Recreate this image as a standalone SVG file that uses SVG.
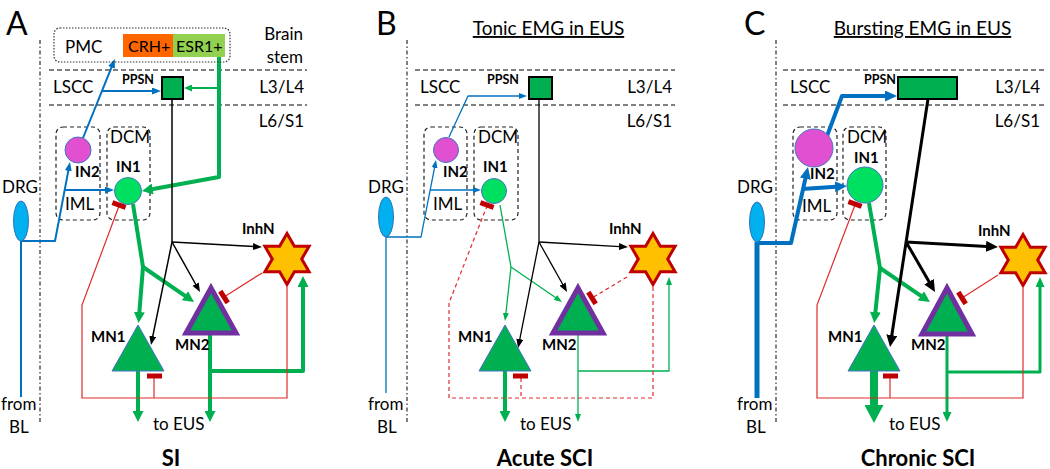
<svg xmlns="http://www.w3.org/2000/svg" width="1050" height="469" viewBox="0 0 1050 469">
<style>
text{font-family:Lato,"Liberation Sans",sans-serif;fill:#000}
.t{font-size:17px}
.ts{font-size:16px}
.tb{font-size:15px;font-weight:bold}
.mn{font-size:15px;font-weight:bold}
.pp{font-size:12.5px;font-weight:bold}
.let{font-size:32px}
.ttl{font-size:19px;text-decoration:underline;text-anchor:middle}
.cap{font-size:22px;font-weight:bold;text-anchor:middle}
.end{text-anchor:end}
.dd{stroke:#000;stroke-width:1;stroke-dasharray:4 2.5 1.5 2.5;fill:none}
.hd{stroke:#000;stroke-width:1.2;stroke-dasharray:5 3;fill:none}
.box{fill:none;stroke:#222;stroke-width:1.2;stroke-dasharray:4 3}
.pmc{fill:none;stroke:#333;stroke-width:1.2;stroke-dasharray:1.5 1.5}
.ppn{fill:#00B050;stroke:#000;stroke-width:2}
.in1{fill:#00E060;stroke:#4472C4;stroke-width:1}
.in2{fill:#E050D0;stroke:#4472C4;stroke-width:1}
.drg{fill:#00B0F0;stroke:#2E75B6;stroke-width:1}
.star{fill:#FFC000;stroke:#C00000;stroke-width:3;stroke-linejoin:miter}
.mn1{fill:#00B050;stroke:#4472C4;stroke-width:1}
.mn2{fill:#00B050;stroke:#7030A0;stroke-width:5;stroke-linejoin:miter}
.c{fill:none;stroke-linejoin:round}
.bl{stroke:#0070C0}
.gr{stroke:#00B050}
.bk{stroke:#000}
.rd{stroke:#E02A2A;stroke-width:1.2;fill:none}
.bar{stroke:#C00000;stroke-width:5;fill:none}
.dash{stroke-dasharray:4 3}
</style>
<defs>
<marker id="mb1" markerUnits="userSpaceOnUse" markerWidth="8" markerHeight="6" viewBox="0 0 8 6" refX="1" refY="3" orient="auto"><path d="M0,0 L8,3 L0,6 z" fill="#0070C0"/></marker>
<marker id="mb2" markerUnits="userSpaceOnUse" markerWidth="9" markerHeight="7" viewBox="0 0 9 7" refX="1" refY="3.5" orient="auto"><path d="M0,0 L9,3.5 L0,7 z" fill="#0070C0"/></marker>
<marker id="mb4" markerUnits="userSpaceOnUse" markerWidth="12" markerHeight="11" viewBox="0 0 12 11" refX="1" refY="5.5" orient="auto"><path d="M0,0 L12,5.5 L0,11 z" fill="#0070C0"/></marker>
<marker id="mg1" markerUnits="userSpaceOnUse" markerWidth="8" markerHeight="6" viewBox="0 0 8 6" refX="1" refY="3" orient="auto"><path d="M0,0 L8,3 L0,6 z" fill="#00B050"/></marker>
<marker id="mg2" markerUnits="userSpaceOnUse" markerWidth="8" markerHeight="7" viewBox="0 0 8 7" refX="1" refY="3.5" orient="auto"><path d="M0,0 L8,3.5 L0,7 z" fill="#00B050"/></marker>
<marker id="mg3" markerUnits="userSpaceOnUse" markerWidth="10" markerHeight="9" viewBox="0 0 10 9" refX="1" refY="4.5" orient="auto"><path d="M0,0 L10,4.5 L0,9 z" fill="#00B050"/></marker>
<marker id="mg4" markerUnits="userSpaceOnUse" markerWidth="11" markerHeight="11" viewBox="0 0 11 11" refX="1" refY="5.5" orient="auto"><path d="M0,0 L11,5.5 L0,11 z" fill="#00B050"/></marker>
<marker id="mg8" markerUnits="userSpaceOnUse" markerWidth="18" markerHeight="19" viewBox="0 0 18 19" refX="1" refY="9.5" orient="auto"><path d="M0,0 L18,9.5 L0,19 z" fill="#00B050"/></marker>
<marker id="mk1" markerUnits="userSpaceOnUse" markerWidth="9" markerHeight="7" viewBox="0 0 9 7" refX="1" refY="3.5" orient="auto"><path d="M0,0 L9,3.5 L0,7 z" fill="#000"/></marker>
<marker id="mk3" markerUnits="userSpaceOnUse" markerWidth="12" markerHeight="11" viewBox="0 0 12 11" refX="1" refY="5.5" orient="auto"><path d="M0,0 L12,5.5 L0,11 z" fill="#000"/></marker>
<path id="hex" d="M0,-25.5 L7.36,-12.75 L22.08,-12.75 L14.72,0 L22.08,12.75 L7.36,12.75 L0,25.5 L-7.36,12.75 L-22.08,12.75 L-14.72,0 L-22.08,-12.75 L-7.36,-12.75 Z"/>
</defs>

<!-- ================= PANEL A ================= -->
<g id="panelA">
<text class="let" x="6" y="35">A</text>
<line class="dd" x1="40" y1="40" x2="40" y2="423"/>
<line class="hd" x1="49" y1="70" x2="307" y2="70"/>
<line class="hd" x1="49" y1="105" x2="307" y2="105"/>
<text class="t end" x="303" y="40">Brain</text>
<text class="t end" x="303" y="63">stem</text>
<text class="t" x="53" y="93">LSCC</text>
<text class="t end" x="304" y="93">L3/L4</text>
<text class="t end" x="304" y="127">L6/S1</text>
<text class="t" x="1" y="410">from</text>
<text class="t" x="9" y="433">BL</text>
<text class="t" x="153" y="430">to EUS</text>
<text class="cap" x="171" y="466">SI</text>

<g id="A-IML"><rect class="box" x="56" y="127" width="44" height="93" rx="7"/><text class="t" x="65" y="210">IML</text></g>
<g id="A-DCM"><rect class="box" x="107" y="127" width="43" height="93" rx="7"/><text class="t" x="110" y="143">DCM</text></g>

<g id="A-connectors">
 <path class="c bl" stroke-width="2" d="M21,241 V397"/>
 <path class="c bl" stroke-width="2" d="M21,241 H55 L68.5,169.9" marker-end="url(#mb2)"/>
 <path class="c bl" stroke-width="2" d="M64.7,190 H106" marker-end="url(#mb2)"/>
 <path class="c bl" stroke-width="2" d="M83,138 L111.9,66.4" marker-end="url(#mb2)"/>
 <path class="c bl" stroke-width="2" d="M102,91 H153" marker-end="url(#mb2)"/>
 <path class="c gr" stroke-width="4" d="M219,57 V177 L151.8,189.2" marker-end="url(#mg4)"/>
 <path class="c gr" stroke-width="2" d="M219,88 H191" marker-end="url(#mg2)"/>
 <path class="c gr" stroke-width="4" d="M133,204 L143,267 L139.3,313" marker-end="url(#mg4)"/>
 <path class="c gr" stroke-width="4" d="M143,267 L185.8,296.3" marker-end="url(#mg4)"/>
 <path class="c gr" stroke-width="4" d="M138,371 V412" marker-end="url(#mg4)"/>
 <path class="c gr" stroke-width="4" d="M210,335 V412" marker-end="url(#mg4)"/>
 <path class="c gr" stroke-width="4" d="M210,371 H303 V286" marker-end="url(#mg4)"/>
 <path class="c bk" stroke-width="1.5" d="M172,99 V242"/>
 <path class="c bk" stroke-width="1.5" d="M172,242 L254,246.6" marker-end="url(#mk1)"/>
 <path class="c bk" stroke-width="1.5" d="M172,242 L196.1,285" marker-end="url(#mk1)"/>
 <path class="c bk" stroke-width="1.5" d="M172,242 L152.6,337.2" marker-end="url(#mk1)"/>
 <path class="rd" d="M287,287 V398 H82 V305 L119,206"/>
 <path class="rd" d="M154,378 V398"/>
 <path class="rd" d="M262,273 L224,297"/>
 <path class="bar" d="M112.4,202.6 L125.6,207.4"/>
 <path class="bar" d="M147,376 H162"/>
 <path class="bar" d="M220.3,291.1 L227.7,302.9"/>
</g>

<g id="A-PMC">
 <rect class="pmc" x="54" y="28" width="176" height="34" rx="6"/>
 <text class="t" x="65" y="53">PMC</text>
 <rect x="123" y="34" width="50" height="23" fill="#FF6600"/>
 <rect x="173" y="34" width="52" height="23" fill="#92D050"/>
 <text class="ts" x="128" y="52">CRH+</text>
 <text class="ts" x="176" y="52">ESR1+</text>
</g>
<g id="A-PPSN"><rect class="ppn" x="162" y="77" width="21" height="22"/><text class="pp" x="122" y="84">PPSN</text></g>
<g id="A-IN2"><circle class="in2" cx="78" cy="150" r="13"/><text class="tb" x="75" y="177">IN2</text></g>
<g id="A-IN1"><circle class="in1" cx="128" cy="191" r="13.5"/><text class="tb" x="116" y="172">IN1</text></g>
<g id="A-DRG"><ellipse class="drg" cx="21" cy="221" rx="7.5" ry="20"/><text class="t" x="2" y="193">DRG</text></g>
<g id="A-InhN"><use href="#hex" class="star" transform="translate(287,259)"/><text class="tb" x="242" y="234">InhN</text></g>
<g id="A-MN1"><path class="mn1" d="M138,325 L164,371 L112,371 Z"/><text class="mn" x="91" y="342">MN1</text></g>
<g id="A-MN2"><path class="mn2" d="M211,288 L236,333 L186,333 Z"/><text class="mn" x="175" y="350">MN2</text></g>
</g>

<!-- ================= PANEL B ================= -->
<g id="panelB" transform="translate(367,0)">
<text class="let" x="9" y="35">B</text>
<text class="ttl" x="181.5" y="35">Tonic EMG in EUS</text>
<line class="dd" x1="40" y1="40" x2="40" y2="423"/>
<line class="hd" x1="48" y1="70" x2="308" y2="70"/>
<line class="hd" x1="48" y1="105" x2="308" y2="105"/>
<text class="t" x="53" y="93">LSCC</text>
<text class="t end" x="305" y="93">L3/L4</text>
<text class="t end" x="305" y="127">L6/S1</text>
<text class="t" x="1" y="410">from</text>
<text class="t" x="10" y="433">BL</text>
<text class="t" x="153" y="430">to EUS</text>
<text class="cap" x="178" y="466">Acute SCI</text>

<g id="B-IML"><rect class="box" x="57" y="127" width="43" height="93" rx="7"/><text class="t" x="66" y="210">IML</text></g>
<g id="B-DCM"><rect class="box" x="107" y="127" width="44" height="93" rx="7"/><text class="t" x="111" y="143">DCM</text></g>

<g id="B-connectors">
 <path class="c bl" stroke-width="1.3" d="M19,237 V393"/>
 <path class="c bl" stroke-width="1.3" d="M19,237 H54 L67.7,166.9" marker-end="url(#mb1)"/>
 <path class="c bl" stroke-width="1.3" d="M63.2,190 H107" marker-end="url(#mb1)"/>
 <path class="c bl" stroke-width="1.3" d="M82,137 L101,96 H153" marker-end="url(#mb1)"/>
 <path class="c gr" stroke-width="1.3" d="M133,205 L144,267 L138.8,314" marker-end="url(#mg1)"/>
 <path class="c gr" stroke-width="1.3" d="M144,267 L189.2,298" marker-end="url(#mg1)"/>
 <path class="c gr" stroke-width="4" d="M138,371 V412" marker-end="url(#mg4)"/>
 <path class="c gr" stroke-width="1.3" d="M211,335 V415" marker-end="url(#mg1)"/>
 <path class="c gr" stroke-width="1.3" d="M211,371 H302 V284" marker-end="url(#mg1)"/>
 <path class="c bk" stroke-width="1.3" d="M172,99 V242"/>
 <path class="c bk" stroke-width="1.3" d="M172,242 L253,246.6" marker-end="url(#mk1)"/>
 <path class="c bk" stroke-width="1.3" d="M172,242 L196.1,285" marker-end="url(#mk1)"/>
 <path class="c bk" stroke-width="1.3" d="M172,242 L152.6,340.1" marker-end="url(#mk1)"/>
 <path class="rd dash" d="M286,287 V398 H82 V303 L120,206"/>
 <path class="rd dash" d="M154,378 V398"/>
 <path class="rd dash" d="M260,277 L225,298"/>
 <path class="bar" d="M113.4,202.6 L126.6,207.4"/>
 <path class="bar" d="M146,376 H161"/>
 <path class="bar" d="M221.3,292.1 L228.7,303.9"/>
</g>

<g id="B-PPSN"><rect class="ppn" x="162" y="77" width="23" height="22"/><text class="pp" x="120" y="84">PPSN</text></g>
<g id="B-IN2"><circle class="in2" cx="79" cy="150" r="12.5"/><text class="tb" x="76" y="177">IN2</text></g>
<g id="B-IN1"><circle class="in1" cx="127" cy="191" r="12.5"/><text class="tb" x="116" y="172">IN1</text></g>
<g id="B-DRG"><ellipse class="drg" cx="19" cy="217" rx="7.5" ry="20"/><text class="t" x="1" y="193">DRG</text></g>
<g id="B-InhN"><use href="#hex" class="star" transform="translate(286,259)"/><text class="tb" x="242" y="234">InhN</text></g>
<g id="B-MN1"><path class="mn1" d="M138,325 L164,371 L112,371 Z"/><text class="mn" x="91" y="342">MN1</text></g>
<g id="B-MN2"><path class="mn2" d="M211,288 L236,333 L186,333 Z"/><text class="mn" x="175" y="350">MN2</text></g>
</g>

<!-- ================= PANEL C ================= -->
<g id="panelC" transform="translate(736,0)">
<text class="let" x="8" y="35">C</text>
<text class="ttl" x="186.5" y="35">Bursting EMG in EUS</text>
<line class="dd" x1="40" y1="40" x2="40" y2="423"/>
<line class="hd" x1="47" y1="70" x2="309" y2="70"/>
<line class="hd" x1="47" y1="105" x2="309" y2="105"/>
<text class="t" x="54" y="93">LSCC</text>
<text class="t end" x="304" y="93">L3/L4</text>
<text class="t end" x="304" y="127">L6/S1</text>
<text class="t" x="1" y="410">from</text>
<text class="t" x="10" y="433">BL</text>
<text class="t" x="153" y="430">to EUS</text>
<text class="cap" x="182" y="466">Chronic SCI</text>

<g id="C-IML"><rect class="box" x="57" y="127" width="44" height="93" rx="7"/><text class="t" x="66" y="212">IML</text></g>
<g id="C-DCM"><rect class="box" x="107" y="127" width="43" height="93" rx="7"/><text class="t" x="111" y="143">DCM</text></g>

<g id="C-connectors">
 <path class="c bl" stroke-width="5" d="M21,242 V398"/>
 <path class="c bl" stroke-width="4" d="M21,243 H55 L69.6,177.7" marker-end="url(#mb4)"/>
 <path class="c bl" stroke-width="4" d="M66,189 L100,186.7" marker-end="url(#mb4)"/>
 <path class="c bl" stroke-width="4" d="M91,136 L106,96 H150" marker-end="url(#mb4)"/>
 <path class="c gr" stroke-width="4" d="M133,203 L144,268 L139.3,313" marker-end="url(#mg4)"/>
 <path class="c gr" stroke-width="4" d="M144,268 L185.7,296.4" marker-end="url(#mg4)"/>
 <path class="c gr" stroke-width="8" d="M138,371 V406" marker-end="url(#mg8)"/>
 <path class="c gr" stroke-width="3" d="M211,336 V413" marker-end="url(#mg3)"/>
 <path class="c gr" stroke-width="3" d="M211,372 H304 V286" marker-end="url(#mg3)"/>
 <path class="c bk" stroke-width="3" d="M192,99 L155.7,336.1" marker-end="url(#mk3)"/>
 <path class="c bk" stroke-width="3" d="M170.1,242 L251,246.4" marker-end="url(#mk3)"/>
 <path class="c bk" stroke-width="3" d="M170.1,242 L193.5,282.5" marker-end="url(#mk3)"/>
 <path class="rd" d="M287,288 V398 H81 V305 L119,205"/>
 <path class="rd" d="M154,378 V398"/>
 <path class="rd" d="M262,275 L226,298"/>
 <path class="bar" d="M112.4,201.6 L125.6,206.4"/>
 <path class="bar" d="M147,376 H162"/>
 <path class="bar" d="M222.3,292.1 L229.7,303.9"/>
</g>

<g id="C-PPSN"><rect class="ppn" x="162" y="77" width="59" height="22"/><text class="pp" x="128" y="84">PPSN</text></g>
<g id="C-IN2"><circle class="in2" cx="78" cy="148" r="19"/><text class="tb" x="74" y="179">IN2</text></g>
<g id="C-IN1"><circle class="in1" cx="129" cy="185" r="18"/><text class="tb" x="118" y="163">IN1</text></g>
<g id="C-DRG"><ellipse class="drg" cx="21" cy="222" rx="7.5" ry="20"/><text class="t" x="1" y="193">DRG</text></g>
<g id="C-InhN"><use href="#hex" class="star" transform="translate(287,260)"/><text class="tb" x="242" y="236">InhN</text></g>
<g id="C-MN1"><path class="mn1" d="M138,325 L164,371 L112,371 Z"/><text class="mn" x="92" y="342">MN1</text></g>
<g id="C-MN2"><path class="mn2" d="M211,288 L236,334 L186,334 Z"/><text class="mn" x="175" y="350">MN2</text></g>
</g>
</svg>
